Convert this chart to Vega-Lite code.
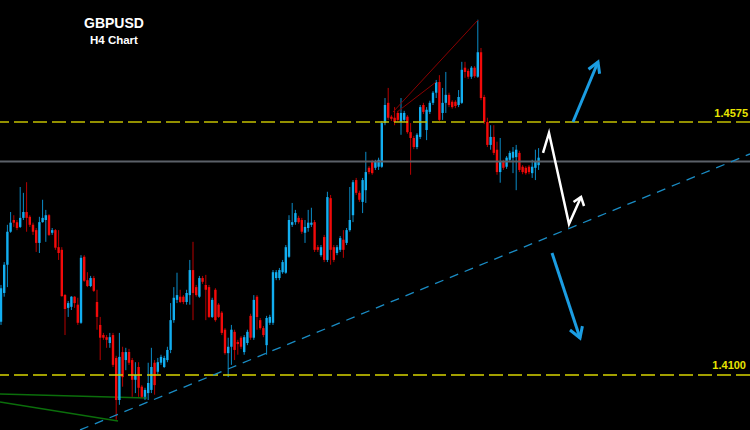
{
  "$schema": "https://vega.github.io/schema/vega-lite/v6.json",
  "width": 750,
  "height": 430,
  "autosize": {"type": "none"},
  "padding": 0,
  "background": "#000000",
  "config": {"view": {"stroke": null}, "scale": {"continuousPadding": 0}},
  "datasets": {
    "candles": [
      {"i":0,"o":1.42,"h":1.4269,"l":1.4194,"c":1.4263},
      {"i":1,"o":1.4254,"h":1.4312,"l":1.4247,"c":1.4307},
      {"i":2,"o":1.4307,"h":1.4382,"l":1.4265,"c":1.4369},
      {"i":3,"o":1.4369,"h":1.4406,"l":1.4367,"c":1.4386},
      {"i":4,"o":1.4391,"h":1.44,"l":1.4378,"c":1.4386},
      {"i":5,"o":1.4387,"h":1.4391,"l":1.4372,"c":1.4376},
      {"i":6,"o":1.4378,"h":1.4453,"l":1.4376,"c":1.4395},
      {"i":7,"o":1.4395,"h":1.4442,"l":1.4391,"c":1.4406},
      {"i":8,"o":1.4406,"h":1.4462,"l":1.4369,"c":1.4395},
      {"i":9,"o":1.4397,"h":1.44,"l":1.4378,"c":1.4382},
      {"i":10,"o":1.4382,"h":1.4386,"l":1.4363,"c":1.4369},
      {"i":11,"o":1.4372,"h":1.4376,"l":1.4331,"c":1.4348},
      {"i":12,"o":1.4348,"h":1.4397,"l":1.4329,"c":1.4387},
      {"i":13,"o":1.4387,"h":1.4429,"l":1.4386,"c":1.4395},
      {"i":14,"o":1.4391,"h":1.441,"l":1.435,"c":1.44},
      {"i":15,"o":1.44,"h":1.4402,"l":1.4361,"c":1.4363},
      {"i":16,"o":1.4367,"h":1.4376,"l":1.4363,"c":1.4372},
      {"i":17,"o":1.4372,"h":1.4374,"l":1.4335,"c":1.4339},
      {"i":18,"o":1.434,"h":1.4372,"l":1.4316,"c":1.4329},
      {"i":19,"o":1.4335,"h":1.434,"l":1.4247,"c":1.4248},
      {"i":20,"o":1.425,"h":1.4252,"l":1.4175,"c":1.4224},
      {"i":21,"o":1.4226,"h":1.4239,"l":1.4209,"c":1.4235},
      {"i":22,"o":1.4228,"h":1.4248,"l":1.4222,"c":1.4247},
      {"i":23,"o":1.4247,"h":1.4248,"l":1.4226,"c":1.4235},
      {"i":24,"o":1.4232,"h":1.4245,"l":1.4194,"c":1.4198},
      {"i":25,"o":1.4198,"h":1.4325,"l":1.4196,"c":1.432},
      {"i":26,"o":1.4322,"h":1.4325,"l":1.4275,"c":1.4277},
      {"i":27,"o":1.4278,"h":1.4293,"l":1.4265,"c":1.4267},
      {"i":28,"o":1.4267,"h":1.4286,"l":1.4265,"c":1.4282},
      {"i":29,"o":1.4282,"h":1.4286,"l":1.4256,"c":1.4258},
      {"i":30,"o":1.4237,"h":1.426,"l":1.4185,"c":1.4209},
      {"i":31,"o":1.4194,"h":1.4209,"l":1.4128,"c":1.417},
      {"i":32,"o":1.4175,"h":1.4179,"l":1.4166,"c":1.417},
      {"i":33,"o":1.4171,"h":1.4175,"l":1.4151,"c":1.4166},
      {"i":34,"o":1.416,"h":1.4179,"l":1.4151,"c":1.4171},
      {"i":35,"o":1.4175,"h":1.4179,"l":1.4115,"c":1.4119},
      {"i":36,"o":1.4132,"h":1.4136,"l":1.4016,"c":1.4053},
      {"i":37,"o":1.4053,"h":1.4179,"l":1.4044,"c":1.4134},
      {"i":38,"o":1.4143,"h":1.4153,"l":1.4078,"c":1.4096},
      {"i":39,"o":1.4128,"h":1.4151,"l":1.4109,"c":1.4143},
      {"i":40,"o":1.4143,"h":1.4149,"l":1.4119,"c":1.4123},
      {"i":41,"o":1.4128,"h":1.4132,"l":1.4059,"c":1.4091},
      {"i":42,"o":1.4091,"h":1.4124,"l":1.4066,"c":1.41},
      {"i":43,"o":1.4115,"h":1.4124,"l":1.4059,"c":1.4076},
      {"i":44,"o":1.4078,"h":1.4081,"l":1.4057,"c":1.4059},
      {"i":45,"o":1.4059,"h":1.4076,"l":1.4053,"c":1.4072},
      {"i":46,"o":1.4066,"h":1.4123,"l":1.4053,"c":1.4085},
      {"i":47,"o":1.4072,"h":1.4151,"l":1.4066,"c":1.4115},
      {"i":48,"o":1.4123,"h":1.4128,"l":1.4063,"c":1.4081},
      {"i":49,"o":1.4106,"h":1.4132,"l":1.4102,"c":1.4124},
      {"i":50,"o":1.4123,"h":1.4138,"l":1.4119,"c":1.4134},
      {"i":51,"o":1.4115,"h":1.4136,"l":1.4113,"c":1.4132},
      {"i":52,"o":1.4128,"h":1.4153,"l":1.4124,"c":1.4147},
      {"i":53,"o":1.4147,"h":1.4235,"l":1.4141,"c":1.4203},
      {"i":54,"o":1.4203,"h":1.4265,"l":1.4198,"c":1.4245},
      {"i":55,"o":1.4241,"h":1.4292,"l":1.4235,"c":1.425},
      {"i":56,"o":1.4247,"h":1.426,"l":1.4235,"c":1.4237},
      {"i":57,"o":1.4247,"h":1.425,"l":1.4233,"c":1.4237},
      {"i":58,"o":1.4237,"h":1.426,"l":1.4232,"c":1.4254},
      {"i":59,"o":1.425,"h":1.4316,"l":1.4232,"c":1.4297},
      {"i":60,"o":1.4297,"h":1.435,"l":1.4203,"c":1.4254},
      {"i":61,"o":1.4265,"h":1.4269,"l":1.4247,"c":1.425},
      {"i":62,"o":1.4247,"h":1.4286,"l":1.4245,"c":1.4282},
      {"i":63,"o":1.4282,"h":1.4286,"l":1.4271,"c":1.4275},
      {"i":64,"o":1.4269,"h":1.4288,"l":1.4203,"c":1.426},
      {"i":65,"o":1.4265,"h":1.4269,"l":1.4207,"c":1.4209},
      {"i":66,"o":1.4209,"h":1.4245,"l":1.4207,"c":1.4241},
      {"i":67,"o":1.426,"h":1.4263,"l":1.42,"c":1.4203},
      {"i":68,"o":1.4232,"h":1.4235,"l":1.4207,"c":1.4209},
      {"i":69,"o":1.4217,"h":1.422,"l":1.4175,"c":1.4179},
      {"i":70,"o":1.4185,"h":1.4188,"l":1.4138,"c":1.4141},
      {"i":71,"o":1.4141,"h":1.417,"l":1.4096,"c":1.4153},
      {"i":72,"o":1.4153,"h":1.4194,"l":1.4119,"c":1.4185},
      {"i":73,"o":1.4181,"h":1.4185,"l":1.4128,"c":1.4147},
      {"i":74,"o":1.4162,"h":1.4166,"l":1.4138,"c":1.4158},
      {"i":75,"o":1.417,"h":1.4173,"l":1.4149,"c":1.4153},
      {"i":76,"o":1.4143,"h":1.4175,"l":1.4138,"c":1.4171},
      {"i":77,"o":1.416,"h":1.4185,"l":1.4156,"c":1.4181},
      {"i":78,"o":1.4211,"h":1.4215,"l":1.4166,"c":1.417},
      {"i":79,"o":1.417,"h":1.425,"l":1.4166,"c":1.4241},
      {"i":80,"o":1.4247,"h":1.425,"l":1.4185,"c":1.4209},
      {"i":81,"o":1.4203,"h":1.4207,"l":1.4185,"c":1.4188},
      {"i":82,"o":1.4188,"h":1.4192,"l":1.4171,"c":1.4175},
      {"i":83,"o":1.4156,"h":1.4211,"l":1.4138,"c":1.4207},
      {"i":84,"o":1.4198,"h":1.4213,"l":1.4194,"c":1.4209},
      {"i":85,"o":1.4198,"h":1.4297,"l":1.4194,"c":1.4293},
      {"i":86,"o":1.4282,"h":1.4297,"l":1.4278,"c":1.4293},
      {"i":87,"o":1.4282,"h":1.4301,"l":1.4278,"c":1.4297},
      {"i":88,"o":1.4293,"h":1.4316,"l":1.429,"c":1.4312},
      {"i":89,"o":1.4292,"h":1.4344,"l":1.429,"c":1.434},
      {"i":90,"o":1.4322,"h":1.44,"l":1.432,"c":1.4391},
      {"i":91,"o":1.4382,"h":1.4423,"l":1.4378,"c":1.4387},
      {"i":92,"o":1.4387,"h":1.441,"l":1.4382,"c":1.4404},
      {"i":93,"o":1.4395,"h":1.4399,"l":1.4384,"c":1.4387},
      {"i":94,"o":1.4391,"h":1.4395,"l":1.4365,"c":1.4369},
      {"i":95,"o":1.4367,"h":1.4391,"l":1.4348,"c":1.4378},
      {"i":96,"o":1.4376,"h":1.441,"l":1.4369,"c":1.4386},
      {"i":97,"o":1.4382,"h":1.4414,"l":1.4378,"c":1.4386},
      {"i":98,"o":1.4387,"h":1.4391,"l":1.4331,"c":1.4335},
      {"i":99,"o":1.434,"h":1.4344,"l":1.4331,"c":1.4335},
      {"i":100,"o":1.4325,"h":1.4344,"l":1.4322,"c":1.434},
      {"i":101,"o":1.4359,"h":1.4363,"l":1.4312,"c":1.4316},
      {"i":102,"o":1.4316,"h":1.4444,"l":1.4312,"c":1.4434},
      {"i":103,"o":1.4432,"h":1.4438,"l":1.4307,"c":1.4335},
      {"i":104,"o":1.434,"h":1.4344,"l":1.4312,"c":1.4316},
      {"i":105,"o":1.4329,"h":1.4344,"l":1.4325,"c":1.434},
      {"i":106,"o":1.4335,"h":1.4361,"l":1.4331,"c":1.4357},
      {"i":107,"o":1.4354,"h":1.4372,"l":1.432,"c":1.4335},
      {"i":108,"o":1.4348,"h":1.4376,"l":1.4344,"c":1.4372},
      {"i":109,"o":1.4372,"h":1.4453,"l":1.4369,"c":1.4391},
      {"i":110,"o":1.44,"h":1.4466,"l":1.4387,"c":1.4462},
      {"i":111,"o":1.4466,"h":1.447,"l":1.4438,"c":1.4442},
      {"i":112,"o":1.4442,"h":1.4446,"l":1.4425,"c":1.4429},
      {"i":113,"o":1.4425,"h":1.447,"l":1.4404,"c":1.4466},
      {"i":114,"o":1.4447,"h":1.4519,"l":1.4423,"c":1.4481},
      {"i":115,"o":1.4489,"h":1.4492,"l":1.4477,"c":1.4481},
      {"i":116,"o":1.45,"h":1.4504,"l":1.4476,"c":1.4479},
      {"i":117,"o":1.4489,"h":1.4504,"l":1.4485,"c":1.45},
      {"i":118,"o":1.4491,"h":1.4508,"l":1.4485,"c":1.4504},
      {"i":119,"o":1.4491,"h":1.4577,"l":1.4489,"c":1.4573},
      {"i":120,"o":1.4573,"h":1.462,"l":1.4569,"c":1.4607},
      {"i":121,"o":1.4611,"h":1.4639,"l":1.4579,"c":1.4583},
      {"i":122,"o":1.4585,"h":1.4588,"l":1.4577,"c":1.4581},
      {"i":123,"o":1.4583,"h":1.4603,"l":1.4569,"c":1.4575},
      {"i":124,"o":1.4592,"h":1.4596,"l":1.4575,"c":1.4579},
      {"i":125,"o":1.4575,"h":1.462,"l":1.4551,"c":1.4592},
      {"i":126,"o":1.4579,"h":1.4596,"l":1.4575,"c":1.4592},
      {"i":127,"o":1.4585,"h":1.4588,"l":1.4553,"c":1.4556},
      {"i":128,"o":1.4556,"h":1.4573,"l":1.4476,"c":1.4545},
      {"i":129,"o":1.4545,"h":1.4549,"l":1.4524,"c":1.4528},
      {"i":130,"o":1.4528,"h":1.4554,"l":1.4524,"c":1.4551},
      {"i":131,"o":1.4547,"h":1.4607,"l":1.4543,"c":1.4603},
      {"i":132,"o":1.4607,"h":1.4611,"l":1.459,"c":1.4594},
      {"i":133,"o":1.456,"h":1.4603,"l":1.4541,"c":1.4598},
      {"i":134,"o":1.4594,"h":1.4615,"l":1.459,"c":1.4611},
      {"i":135,"o":1.4611,"h":1.4633,"l":1.4607,"c":1.463},
      {"i":136,"o":1.463,"h":1.4654,"l":1.462,"c":1.465},
      {"i":137,"o":1.465,"h":1.4663,"l":1.4577,"c":1.4579},
      {"i":138,"o":1.4592,"h":1.4639,"l":1.4579,"c":1.4611},
      {"i":139,"o":1.4611,"h":1.4669,"l":1.4592,"c":1.4626},
      {"i":140,"o":1.4626,"h":1.463,"l":1.4603,"c":1.4607},
      {"i":141,"o":1.4613,"h":1.4616,"l":1.46,"c":1.4603},
      {"i":142,"o":1.4613,"h":1.4616,"l":1.4601,"c":1.4605},
      {"i":143,"o":1.4607,"h":1.4635,"l":1.4603,"c":1.4622},
      {"i":144,"o":1.4611,"h":1.4688,"l":1.4609,"c":1.4673},
      {"i":145,"o":1.4677,"h":1.4688,"l":1.4658,"c":1.4669},
      {"i":146,"o":1.4671,"h":1.4675,"l":1.4656,"c":1.466},
      {"i":147,"o":1.466,"h":1.468,"l":1.4656,"c":1.4677},
      {"i":148,"o":1.4677,"h":1.468,"l":1.4658,"c":1.4661},
      {"i":149,"o":1.466,"h":1.4767,"l":1.4658,"c":1.4706},
      {"i":150,"o":1.4706,"h":1.4714,"l":1.4616,"c":1.462},
      {"i":151,"o":1.4622,"h":1.4626,"l":1.4571,"c":1.4575},
      {"i":152,"o":1.4575,"h":1.4583,"l":1.4528,"c":1.4532},
      {"i":153,"o":1.4532,"h":1.4569,"l":1.4523,"c":1.4547},
      {"i":154,"o":1.4547,"h":1.4569,"l":1.4513,"c":1.4517},
      {"i":155,"o":1.4523,"h":1.4538,"l":1.4476,"c":1.4481},
      {"i":156,"o":1.4481,"h":1.4545,"l":1.4461,"c":1.45},
      {"i":157,"o":1.45,"h":1.4504,"l":1.4485,"c":1.4489},
      {"i":158,"o":1.4491,"h":1.4511,"l":1.4487,"c":1.4508},
      {"i":159,"o":1.4504,"h":1.4521,"l":1.45,"c":1.4517},
      {"i":160,"o":1.4508,"h":1.4528,"l":1.4479,"c":1.4519},
      {"i":161,"o":1.4509,"h":1.4532,"l":1.4447,"c":1.4523},
      {"i":162,"o":1.4517,"h":1.4521,"l":1.4481,"c":1.4485},
      {"i":163,"o":1.4491,"h":1.4494,"l":1.4477,"c":1.4481},
      {"i":164,"o":1.4489,"h":1.4492,"l":1.4476,"c":1.4479},
      {"i":165,"o":1.4491,"h":1.4494,"l":1.4477,"c":1.4481},
      {"i":166,"o":1.4479,"h":1.4504,"l":1.447,"c":1.4491},
      {"i":167,"o":1.4489,"h":1.4523,"l":1.4466,"c":1.45},
      {"i":168,"o":1.4494,"h":1.4526,"l":1.4485,"c":1.4508}
    ]
  },
  "layer": [
    {
      "data": {"values": [
        {"g":"g1","k":0,"x":-0.31,"y":1.40644},{"g":"g1","k":1,"x":45.63,"y":1.40569},
        {"g":"g2","k":0,"x":-0.31,"y":1.40493},{"g":"g2","k":1,"x":36.56,"y":1.40137}
      ]},
      "mark": {"type": "line", "color": "#0b6e0b", "strokeWidth": 1.5, "clip": true},
      "encoding": {
        "x": {"field": "x", "type": "quantitative", "scale": {"domain": [-0.3125, 234.0625], "nice": false, "zero": false, "padding": 0}, "axis": null},
        "y": {"field": "y", "type": "quantitative", "scale": {"domain": [1.39967, 1.48041], "nice": false, "zero": false, "padding": 0}, "axis": null},
        "detail": {"field": "g"},
        "order": {"field": "k"}
      }
    },
    {
      "data": {"name": "candles"},
      "mark": {"type": "rule", "strokeWidth": 1, "clip": true},
      "encoding": {
        "x": {"field": "i", "type": "quantitative", "scale": {"domain": [-0.3125, 234.0625], "nice": false, "zero": false, "padding": 0}, "axis": null},
        "y": {"field": "l", "type": "quantitative", "scale": {"domain": [1.39967, 1.48041], "nice": false, "zero": false, "padding": 0}, "axis": null},
        "y2": {"field": "h"},
        "color": {"condition": {"test": "datum.c >= datum.o", "value": "#0b8cc8"}, "value": "#b80000"}
      }
    },
    {
      "data": {"name": "candles"},
      "mark": {"type": "bar", "size": 2.4, "clip": true},
      "encoding": {
        "x": {"field": "i", "type": "quantitative", "scale": {"domain": [-0.3125, 234.0625], "nice": false, "zero": false, "padding": 0}, "axis": null},
        "y": {"field": "o", "type": "quantitative", "scale": {"domain": [1.39967, 1.48041], "nice": false, "zero": false, "padding": 0}, "axis": null},
        "y2": {"field": "c"},
        "color": {"condition": {"test": "datum.c >= datum.o", "value": "#12aef0"}, "value": "#f20a0a"}
      }
    },
    {
      "data": {"values": [
        {"g":"r1","k":0,"x":122.5,"y":1.45938},{"g":"r1","k":1,"x":149.06,"y":1.47666},
        {"g":"r2","k":0,"x":123.75,"y":1.45938},{"g":"r2","k":1,"x":135.94,"y":1.46501}
      ]},
      "mark": {"type": "line", "color": "#8a0000", "strokeWidth": 1, "clip": true},
      "encoding": {
        "x": {"field": "x", "type": "quantitative", "scale": {"domain": [-0.3125, 234.0625], "nice": false, "zero": false, "padding": 0}, "axis": null},
        "y": {"field": "y", "type": "quantitative", "scale": {"domain": [1.39967, 1.48041], "nice": false, "zero": false, "padding": 0}, "axis": null},
        "detail": {"field": "g"},
        "order": {"field": "k"}
      }
    },
    {
      "data": {"values": [{"p": 1.4501}]},
      "mark": {"type": "rule", "color": "#5b6068", "strokeWidth": 2},
      "encoding": {
        "y": {"field": "p", "type": "quantitative", "scale": {"domain": [1.39967, 1.48041], "nice": false, "zero": false, "padding": 0}, "axis": null}
      }
    },
    {
      "data": {"values": [{"p": 1.4575}]},
      "mark": {"type": "rule", "color": "#c4c000", "strokeWidth": 1.5, "strokeDash": [14, 5]},
      "encoding": {
        "y": {"field": "p", "type": "quantitative", "scale": {"domain": [1.39967, 1.48041], "nice": false, "zero": false, "padding": 0}, "axis": null}
      }
    },
    {
      "data": {"values": [{"p": 1.41}]},
      "mark": {"type": "rule", "color": "#d8d400", "strokeWidth": 1.5, "strokeDash": [14, 5]},
      "encoding": {
        "y": {"field": "p", "type": "quantitative", "scale": {"domain": [1.39967, 1.48041], "nice": false, "zero": false, "padding": 0}, "axis": null}
      }
    },
    {
      "data": {"values": [
        {"k":0,"x":24.69,"y":1.39968},{"k":1,"x":234.06,"y":1.4515}
      ]},
      "mark": {"type": "line", "color": "#1a8cc4", "strokeWidth": 1.3, "strokeDash": [9, 7], "clip": true},
      "encoding": {
        "x": {"field": "x", "type": "quantitative", "scale": {"domain": [-0.3125, 234.0625], "nice": false, "zero": false, "padding": 0}, "axis": null},
        "y": {"field": "y", "type": "quantitative", "scale": {"domain": [1.39967, 1.48041], "nice": false, "zero": false, "padding": 0}, "axis": null},
        "order": {"field": "k"}
      }
    },
    {
      "data": {"values": [
        {"g":"u","k":0,"x":178.75,"y":1.4575},{"g":"u","k":1,"x":186.56,"y":1.46877},
        {"g":"uh","k":0,"x":183.59,"y":1.4674},{"g":"uh","k":1,"x":186.56,"y":1.46877},{"g":"uh","k":2,"x":187.06,"y":1.46655},
        {"g":"d","k":0,"x":172.19,"y":1.43291},{"g":"d","k":1,"x":180.94,"y":1.41695},
        {"g":"dh","k":0,"x":181.69,"y":1.41917},{"g":"dh","k":1,"x":180.94,"y":1.41695},{"g":"dh","k":2,"x":177.81,"y":1.41845}
      ]},
      "mark": {"type": "line", "color": "#1b9de2", "strokeWidth": 3, "clip": true},
      "encoding": {
        "x": {"field": "x", "type": "quantitative", "scale": {"domain": [-0.3125, 234.0625], "nice": false, "zero": false, "padding": 0}, "axis": null},
        "y": {"field": "y", "type": "quantitative", "scale": {"domain": [1.39967, 1.48041], "nice": false, "zero": false, "padding": 0}, "axis": null},
        "detail": {"field": "g"},
        "order": {"field": "k"}
      }
    },
    {
      "data": {"values": [
        {"g":"w","k":0,"x":169.38,"y":1.45169},{"g":"w","k":1,"x":171.25,"y":1.45544},{"g":"w","k":2,"x":177.5,"y":1.43836},{"g":"w","k":3,"x":181.25,"y":1.44343},
        {"g":"wh","k":0,"x":178.91,"y":1.44248},{"g":"wh","k":1,"x":181.25,"y":1.44343},{"g":"wh","k":2,"x":182.19,"y":1.44173}
      ]},
      "mark": {"type": "line", "color": "#ffffff", "strokeWidth": 2.5, "clip": true},
      "encoding": {
        "x": {"field": "x", "type": "quantitative", "scale": {"domain": [-0.3125, 234.0625], "nice": false, "zero": false, "padding": 0}, "axis": null},
        "y": {"field": "y", "type": "quantitative", "scale": {"domain": [1.39967, 1.48041], "nice": false, "zero": false, "padding": 0}, "axis": null},
        "detail": {"field": "g"},
        "order": {"field": "k"}
      }
    },
    {
      "data": {"values": [
        {"t":"1.4575","x":233.44,"y":1.4584},
        {"t":"1.4100","x":232.81,"y":1.4111}
      ]},
      "mark": {"type": "text", "align": "right", "baseline": "alphabetic", "font": "Liberation Sans", "fontWeight": "bold", "fontSize": 11, "color": "#e8e400"},
      "encoding": {
        "x": {"field": "x", "type": "quantitative", "scale": {"domain": [-0.3125, 234.0625], "nice": false, "zero": false, "padding": 0}, "axis": null},
        "y": {"field": "y", "type": "quantitative", "scale": {"domain": [1.39967, 1.48041], "nice": false, "zero": false, "padding": 0}, "axis": null},
        "text": {"field": "t"}
      }
    },
    {
      "data": {"values": [
        {"t":"GBPUSD","x":35.3,"y":1.47515,"s":"a"},
        {"t":"H4 Chart","x":35.3,"y":1.4721,"s":"b"}
      ]},
      "mark": {"type": "text", "align": "center", "baseline": "alphabetic", "font": "Liberation Sans", "fontWeight": "bold", "color": "#ffffff"},
      "encoding": {
        "x": {"field": "x", "type": "quantitative", "scale": {"domain": [-0.3125, 234.0625], "nice": false, "zero": false, "padding": 0}, "axis": null},
        "y": {"field": "y", "type": "quantitative", "scale": {"domain": [1.39967, 1.48041], "nice": false, "zero": false, "padding": 0}, "axis": null},
        "text": {"field": "t"},
        "size": {"field": "s", "type": "nominal", "scale": {"domain": ["a", "b"], "range": [14, 11.5]}, "legend": null}
      }
    }
  ]
}
